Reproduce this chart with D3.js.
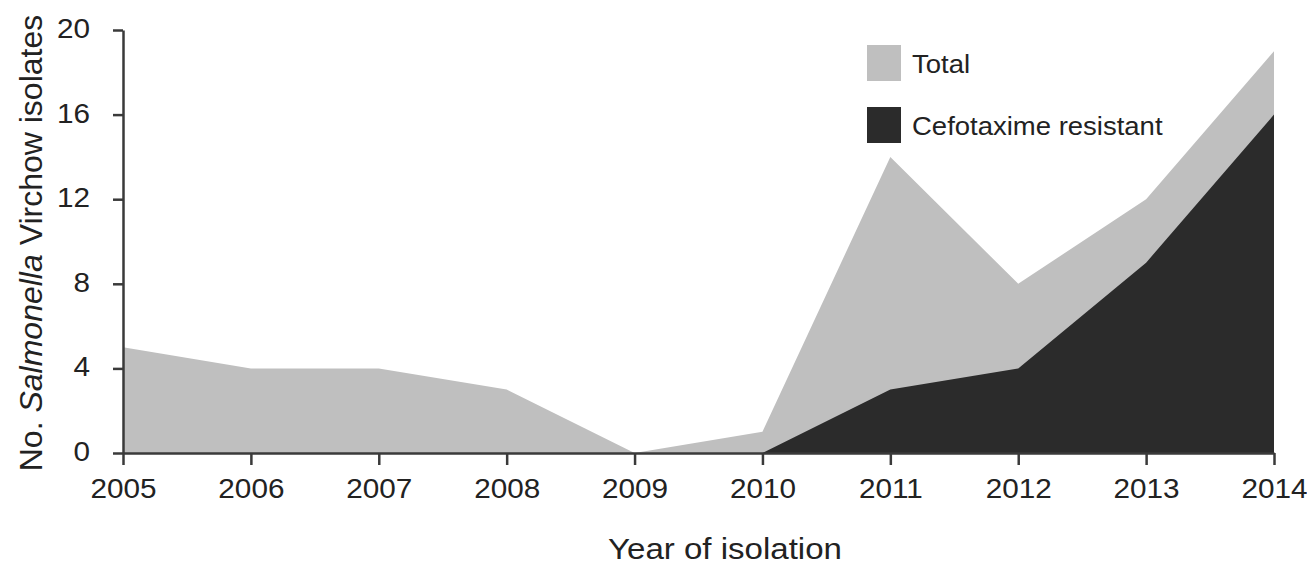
<!DOCTYPE html>
<html>
<head>
<meta charset="utf-8">
<script src="https://cdn.jsdelivr.net/npm/d3@7"></script>
<style>
  html, body { margin: 0; padding: 0; background: #fff; }
  svg { display: block; font-family: "Liberation Sans", Arial, Helvetica, sans-serif; }
</style>
</head>
<body>
<svg id="chart" width="1307" height="567"></svg>
<script>
// Salmonella Virchow isolates per year
const years = [2005, 2006, 2007, 2008, 2009, 2010, 2011, 2012, 2013, 2014];
const totalIsolates = [5, 4, 4, 3, 0, 1, 14, 8, 12, 19];
const cefotaximeResistant = [0, 0, 0, 0, 0, 0, 3, 4, 9, 16];
const yTicks = [0, 4, 8, 12, 16, 20];
const seriesNames = ["Total", "Cefotaxime resistant"];
const seriesColors = ["#bfbfbf", "#2b2b2b"];

const svg = d3.select("#chart");
const ink = "#222";
const axisColor = "#3a3a3a";

const x = d3.scaleLinear().domain([2005, 2014]).range([123, 1274]);
const y = d3.scaleLinear().domain([0, 20]).range([453, 30]);

const rows = years.map((yr, i) => ({ year: yr, total: totalIsolates[i], res: cefotaximeResistant[i] }));

// filled areas: total behind, resistant in front
const areaTotal = d3.area().x(d => x(d.year)).y0(y(0)).y1(d => y(d.total));
const areaRes = d3.area().x(d => x(d.year)).y0(y(0)).y1(d => y(d.res));

svg.append("path").datum(rows).attr("d", areaTotal).attr("fill", seriesColors[0]);
svg.append("path").datum(rows).attr("d", areaRes).attr("fill", seriesColors[1]);

// axes
const yAxis = svg.append("g")
  .attr("transform", `translate(${x(2005)},0)`)
  .call(d3.axisLeft(y).tickValues(yTicks).tickSize(10).tickSizeOuter(0).tickPadding(20));

const xAxis = svg.append("g")
  .attr("transform", `translate(0,${y(0)})`)
  .call(d3.axisBottom(x).tickValues(years).tickFormat(d3.format("d")).tickSize(12).tickSizeOuter(0).tickPadding(14));

[yAxis, xAxis].forEach(g => {
  g.select(".domain").attr("stroke", axisColor).attr("stroke-width", 2.5);
  g.selectAll(".tick line").attr("stroke", axisColor).attr("stroke-width", 2.5);
  g.selectAll(".tick text")
    .attr("fill", ink)
    .style("font-size", "27px")
    .attr("font-family", null)
    .attr("transform", "scale(1.1,1)");
});
yAxis.selectAll(".tick text").attr("dy", "0.28em");

// axis titles
svg.append("text")
  .attr("transform", "translate(725,559) scale(1.14,1)")
  .attr("text-anchor", "middle")
  .attr("fill", ink)
  .style("font-size", "29px")
  .text("Year of isolation");

const yTitle = svg.append("text")
  .attr("transform", "translate(42,243) rotate(-90)")
  .attr("text-anchor", "middle")
  .attr("fill", ink)
  .style("font-size", "32px");
yTitle.append("tspan").text("No. ");
yTitle.append("tspan").style("font-style", "italic").text("Salmonella");
yTitle.append("tspan").text(" Virchow isolates");

// legend
const legend = svg.append("g");
const legendRowsY = [45, 107];
const legendBaselines = [73, 135];
seriesNames.forEach((name, i) => {
  legend.append("rect")
    .attr("x", 867).attr("y", legendRowsY[i])
    .attr("width", 34).attr("height", 36)
    .attr("fill", seriesColors[i]);
  legend.append("text")
    .attr("transform", `translate(912,${legendBaselines[i]}) scale(1.1,1)`)
    .attr("fill", ink)
    .style("font-size", "25px")
    .text(name);
});
</script>
</body>
</html>
